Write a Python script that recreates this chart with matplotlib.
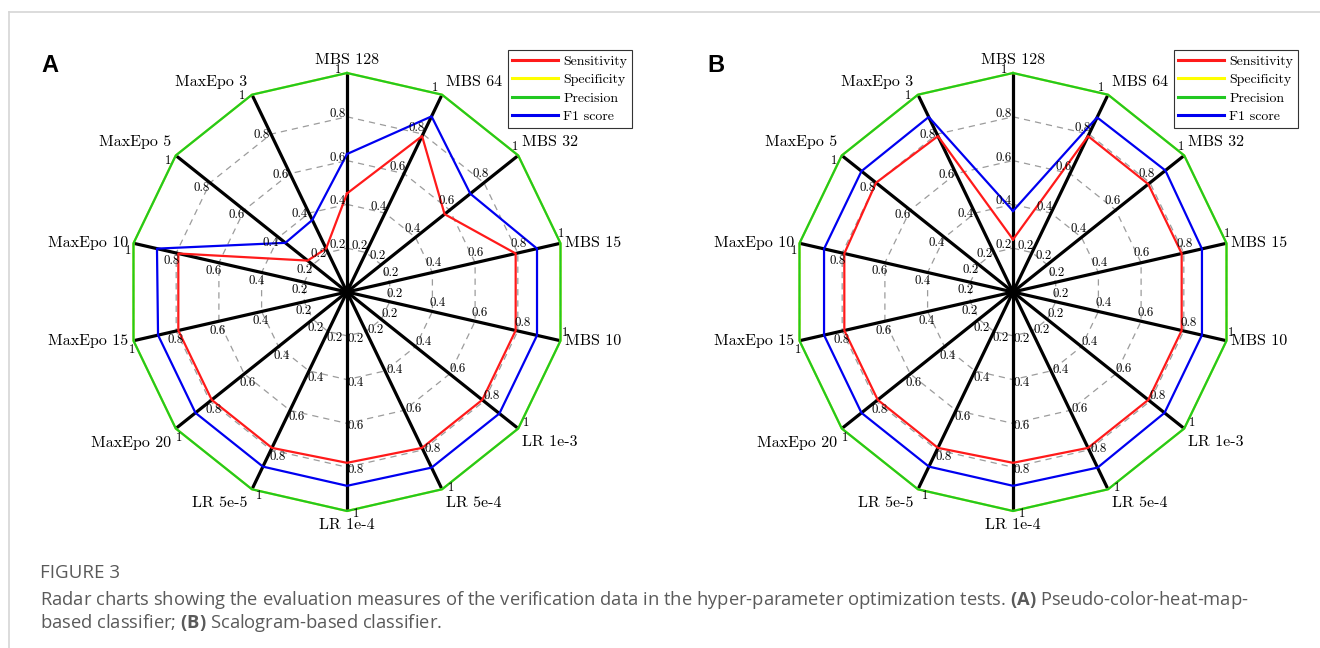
import numpy as np
import matplotlib
matplotlib.use('Agg')
import matplotlib.pyplot as plt

# axes of the radar, clockwise from the top
axis_names = ['MBS 128', 'MBS 64', 'MBS 32', 'MBS 15', 'MBS 10',
              'LR 1e-3', 'LR 5e-4', 'LR 1e-4', 'LR 5e-5',
              'MaxEpo 20', 'MaxEpo 15', 'MaxEpo 10', 'MaxEpo 5', 'MaxEpo 3']
series_names = ['Sensitivity', 'Specificity', 'Precision', 'F1 score']
series_colors = ['#ff1a1a', '#ffff00', '#22c822', '#0000f0']
ring_levels = [0.2, 0.4, 0.6, 0.8, 1.0]
ring_labels = ['0.2', '0.4', '0.6', '0.8', '1']

# (A) pseudo-color-heat-map-based classifier
sens_a = [0.45, 0.79, 0.57, 0.79, 0.79, 0.79, 0.79, 0.78, 0.79, 0.79, 0.79, 0.79, 0.23, 0.22]
spec_a = [1, 1, 1, 1, 1, 1, 1, 1, 1, 1, 1, 1, 1, 1]
prec_a = [1, 1, 1, 1, 1, 1, 1, 1, 1, 1, 1, 1, 1, 1]
f1_a = [0.63, 0.89, 0.72, 0.89, 0.89, 0.89, 0.89, 0.885, 0.885, 0.885, 0.885, 0.89, 0.36, 0.365]

# (B) scalogram-based classifier
sens_b = [0.24, 0.79, 0.79, 0.79, 0.79, 0.79, 0.79, 0.78, 0.79, 0.79, 0.79, 0.79, 0.80, 0.79]
spec_b = [1, 1, 1, 1, 1, 1, 1, 1, 1, 1, 1, 1, 1, 1]
prec_b = [1, 1, 1, 1, 1, 1, 1, 1, 1, 1, 1, 1, 1, 1]
f1_b = [0.37, 0.885, 0.89, 0.885, 0.885, 0.885, 0.89, 0.885, 0.885, 0.885, 0.885, 0.885, 0.885, 0.887]

caption_title = 'FIGURE 3'
caption_1 = ('Radar charts showing the evaluation measures of the verification data in the '
             'hyper-parameter optimization tests. $\\mathbf{(A)}$ Pseudo-color-heat-map-')
caption_2 = 'based classifier; $\\mathbf{(B)}$ Scalogram-based classifier.'

plt.rcParams['mathtext.fontset'] = 'custom'
plt.rcParams['mathtext.rm'] = 'Open Sans'
plt.rcParams['mathtext.bf'] = 'Open Sans:bold'

W, H = 1320, 648
R = 219.0          # radius of the "1" ring in pixels
px = 1.0 / R       # one pixel in data units
serif = ['cmr10', 'DejaVu Serif']

fig = plt.figure(figsize=(W / 100, H / 100), dpi=100)
fig.patch.set_facecolor('white')


def draw_radar(cx_px, cy_px, series, letter, legend_right):
    half = 260
    ax = fig.add_axes([(cx_px - half) / W, 1 - (cy_px + half) / H, 2 * half / W, 2 * half / H])
    lim = half / R
    ax.set_xlim(-lim, lim)
    ax.set_ylim(-lim, lim)
    ax.axis('off')

    n = len(axis_names)
    theta = np.pi / 2 - np.arange(n) * 2 * np.pi / n
    c, s = np.cos(theta), np.sin(theta)
    cc, sc = np.append(c, c[0]), np.append(s, s[0])

    # dashed grid rings
    for lv in ring_levels:
        ax.plot(cc * lv, sc * lv, color='#9c9c9c', lw=0.9, ls=(0, (5, 4)), zorder=1)
    # spokes
    for i in range(n):
        ax.plot([0, c[i]], [0, s[i]], color='black', lw=2.3, zorder=2, solid_capstyle='butt')
    # data
    for vals, col, name in zip(series, series_colors, series_names):
        v = np.append(vals, vals[0])
        ax.plot(cc * v, sc * v, color=col, lw=1.6, label=name, zorder=3)

    # tick labels along each spoke
    for i in range(n):
        perp = np.array([-s[i], c[i]])
        out = np.array([c[i], s[i]])
        off = (9 * perp + 3 * out) * px
        for lv, lab in zip(ring_levels, ring_labels):
            ax.text(c[i] * lv + off[0], s[i] * lv + off[1], lab, ha='center', va='center',
                    fontsize=9.2, family=serif, zorder=4)

    # axis names
    for i, name in enumerate(axis_names):
        if abs(c[i]) < 0.05:
            ha, dx = 'center', 0
        elif c[i] > 0:
            ha, dx = 'left', 4
        else:
            ha, dx = 'right', -5
        if abs(s[i]) < 0.3:
            va, dy = 'center', 0
        elif s[i] > 0:
            va, dy = 'bottom', 6
        else:
            va, dy = 'top', -7
        ax.text(c[i] + dx * px, s[i] + dy * px, name, ha=ha, va=va, fontsize=11.5,
                family=serif, zorder=5)

    leg = ax.legend(loc='upper right', bbox_to_anchor=(legend_right / W, 1 - 50 / H),
                    bbox_transform=fig.transFigure, prop={'family': serif, 'size': 10},
                    frameon=True, fancybox=False, edgecolor='#333333', framealpha=1,
                    handlelength=3.3, handletextpad=0.35, labelspacing=0.42,
                    borderpad=0.35, borderaxespad=0)
    leg.get_frame().set_linewidth(0.8)
    for ln in leg.get_lines():
        ln.set_linewidth(2.2)

    fig.text((cx_px - 297) / W, 1 - 65 / H, letter, ha='center', va='center',
             fontsize=17, fontweight='bold', family=['Liberation Sans', 'DejaVu Sans'])


draw_radar(347, 292, [sens_a, spec_a, prec_a, f1_a], 'A', 632)
draw_radar(1013, 292, [sens_b, spec_b, prec_b, f1_b], 'B', 1298)

# card frame
fig.add_artist(plt.Line2D([9 / W, 1], [1 - 12 / H, 1 - 12 / H], color='#d6d6d6', lw=1.2))
fig.add_artist(plt.Line2D([9 / W, 9 / W], [0, 1 - 12 / H], color='#d6d6d6', lw=1.2))

# caption
fig.text(40 / W, 1 - 573 / H, caption_title, ha='left', va='center', fontsize=13.5,
         color='#5a5a5a', family='Open Sans')
fig.text(40 / W, 1 - 600 / H, caption_1, ha='left', va='center', fontsize=13.2,
         color='#5a5a5a', family='Open Sans')
fig.text(40 / W, 1 - 623 / H, caption_2, ha='left', va='center', fontsize=13.2,
         color='#5a5a5a', family='Open Sans')

fig.savefig('out.png', dpi=100)
